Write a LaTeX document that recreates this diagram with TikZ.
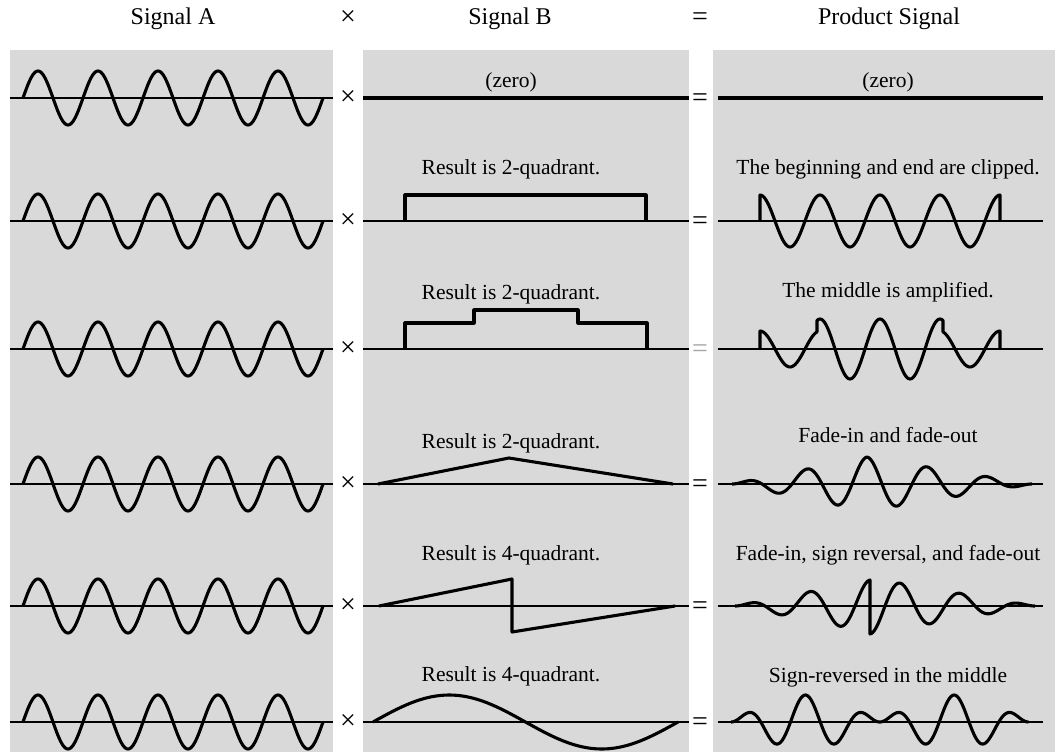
\documentclass[tikz,border=0pt]{standalone}
\usepackage{fontspec}
\setmainfont{Liberation Serif}
\begin{document}
\begin{tikzpicture}[x=1pt,y=-1pt,
  panel/.style={fill=gray!30},
  axisline/.style={line width=1.7pt},
  sig/.style={line width=3.1pt,line join=round,line cap=butt},
  hdr/.style={font=\fontsize{24}{28}\selectfont,anchor=base,inner sep=0pt},
  lbl/.style={font=\fontsize{21.5}{25}\selectfont,anchor=base,inner sep=0pt},
  op/.style={font=\fontsize{28}{32}\selectfont,inner sep=0pt}]
\useasboundingbox (0,0) rectangle (1055,752);
% panels
\fill[panel] (10,50) rectangle (333,752);
\fill[panel] (363,50) rectangle (689,752);
\fill[panel] (713,50) rectangle (1055,752);
% headers
\node[hdr] (hA) at (173,25) {Signal A};
\node[op] (hx) at (348,18) {×};
\node[hdr] (hB) at (510,25) {Signal B};
\node[op] (he) at (700,19) {=};
\node[hdr] (hP) at (889,25) {Product Signal};
% axes, signal A, operators
\foreach \r [count=\i] in {98,221,349,484,606,722} {
  \draw[axisline] (10,\r) -- (333,\r);
  \draw[sig] plot[domain=0:1800,samples=241] ({23+\x/6},{\r-27*sin(\x)});
  \node[op] (times\i) at (348,\r) {×};
  \draw[axisline] (363,\r) -- (689,\r);
  \draw[axisline] (718,\r) -- (1043,\r);
}
\foreach \r/\i/\c in {98/1/black,221/2/black,349/3/gray!70,484/4/black,606/5/black,722/6/black} {
  \node[op,text=\c] (eq\i) at (700,\r+2) {=};
}
% labels
\node[lbl] (lb1) at (511,88) {(zero)};
\node[lbl] (lp1) at (888,88) {(zero)};
\node[lbl] (lb2) at (511,174) {Result is 2-quadrant.};
\node[lbl] (lp2) at (888,174) {The beginning and end are clipped.};
\node[lbl] (lb3) at (511,299) {Result is 2-quadrant.};
\node[lbl] (lp3) at (888,297) {The middle is amplified.};
\node[lbl] (lb4) at (511,448) {Result is 2-quadrant.};
\node[lbl] (lp4) at (888,442) {Fade-in and fade-out};
\node[lbl] (lb5) at (511,560) {Result is 4-quadrant.};
\node[lbl] (lp5) at (888,560) {Fade-in, sign reversal, and fade-out};
\node[lbl] (lb6) at (511,681) {Result is 4-quadrant.};
\node[lbl] (lp6) at (888,682) {Sign-reversed in the middle};
% row 1: zero
\draw[sig] (363,98) -- (689,98);
\draw[sig] (718,98) -- (1043,98);
% row 2
\draw[sig] (405,221) -- (405,195) -- (646,195) -- (646,221);
\draw[sig] (760,221) -- plot[domain=90:1530,samples=161] ({745+\x/6},{221-26*sin(\x)}) -- (1000,221);
% row 3
\draw[sig] (405,349) -- (405,323) -- (474,323) -- (474,310) -- (578,310) -- (578,323) -- (647,323) -- (647,349);
\draw[sig] (760,349)
  -- plot[domain=90:432,samples=40] ({745+\x/6},{349-18*sin(\x)})
  -- plot[domain=432:1188,samples=85] ({745+\x/6},{349-30*sin(\x)})
  -- plot[domain=1188:1530,samples=40] ({745+\x/6},{349-18*sin(\x)})
  -- (1000,349);
% row 4
\draw[sig] (378,484) -- (509,458) -- (673,484);
\draw[sig] plot[domain=0:810,samples=91] ({732+\x/6},{484-27*sin(\x)*(\x/810)})
  -- plot[domain=810:1800,samples=111] ({732+\x/6},{484-27*sin(\x)*((1800-\x)/990)});
% row 5
\draw[sig] (379,606) -- (512,579) -- (512,632) -- (675,606);
\draw[sig] plot[domain=0:810,samples=91] ({735+\x/6},{606-26*sin(\x)*(\x/810)})
  -- plot[domain=810:1800,samples=111] ({735+\x/6},{606+28*sin(\x)*((1800-\x)/990)});
% row 6
\draw[sig] plot[domain=0:360,samples=73] ({373+\x*(305/360)},{722-27*sin(\x)});
\draw[sig] plot[domain=0:1800,samples=241] ({731+\x/6.05},{722-27*sin(\x)*sin(\x/5)});
\end{tikzpicture}
\end{document}
